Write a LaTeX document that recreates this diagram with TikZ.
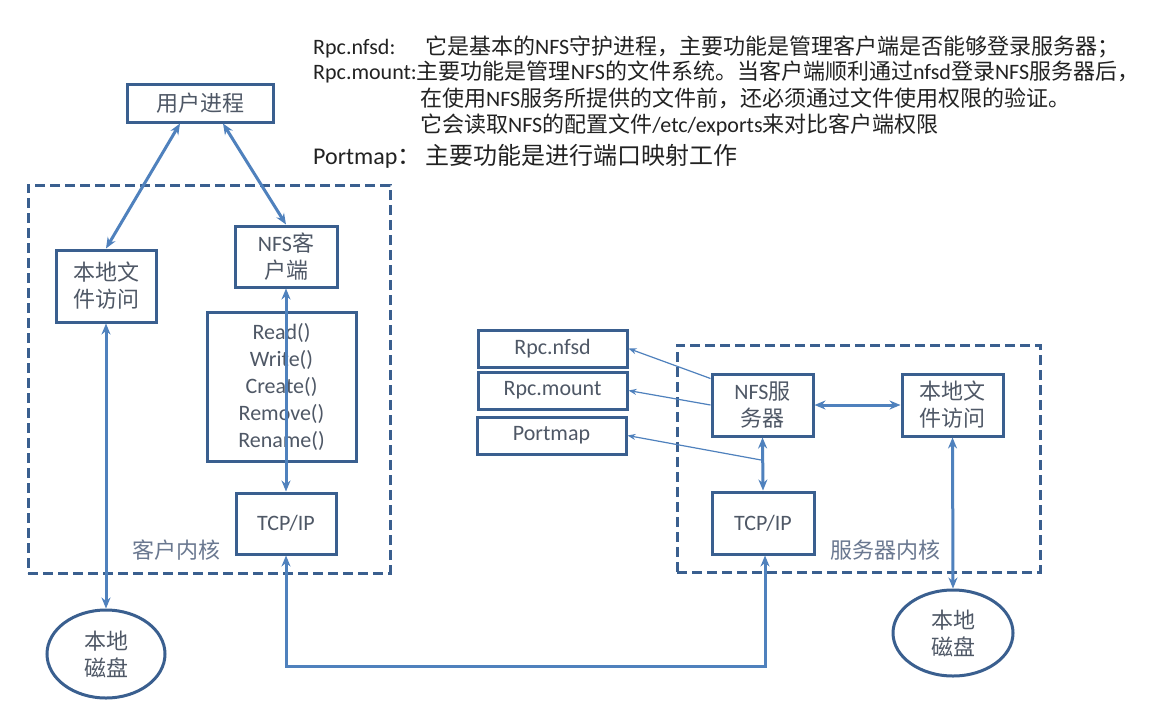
\documentclass[tikz,border=0pt]{standalone}
\usepackage{fontspec}
\setmainfont{Carlito}
\newfontfamily\cjk{Noto Sans CJK SC}
\usetikzlibrary{arrows.meta,shapes.geometric,calc}
% automatic switch between Latin (Carlito) and CJK (Noto Sans CJK SC)
\XeTeXinterchartokenstate=1
\newXeTeXintercharclass\CJKcls
\newcount\cjkcnt
\def\setcjkrange#1#2{\cjkcnt=#1\relax\loop\XeTeXcharclass\cjkcnt=\CJKcls\relax\ifnum\cjkcnt<#2\relax\advance\cjkcnt by 1\repeat}
\setcjkrange{"4E00}{"9FFF}
\setcjkrange{"3000}{"303F}
\setcjkrange{"FF00}{"FFEF}
\XeTeXinterchartoks 0 \CJKcls = {\cjk}
\XeTeXinterchartoks 4095 \CJKcls = {\cjk}
\XeTeXinterchartoks \CJKcls 0 = {\rmfamily}
\XeTeXinterchartoks \CJKcls 4095 = {\rmfamily}
\definecolor{boxc}{HTML}{3A5F8F}
\definecolor{arrc}{HTML}{4F81BD}
\definecolor{ntxt}{HTML}{4F5866}
\definecolor{ttxt}{HTML}{222222}
\definecolor{ktxt}{HTML}{6A7890}
\begin{document}
\begin{tikzpicture}[x=1pt,y=-1pt,
  box/.style={draw=boxc, line width=3pt, inner sep=0pt, text=ntxt,
    font=\fontsize{22}{27}\selectfont, align=center},
  disk/.style={box, ellipse},
  kernel/.style={draw=boxc, line width=3pt, dash pattern=on 10pt off 5pt, inner sep=0pt},
  arr/.style={draw=arrc, line width=3pt, {Stealth[length=11pt,width=9pt]}-{Stealth[length=11pt,width=9pt]}},
  thinarr/.style={draw=arrc, line width=1.2pt, -{Stealth[length=8pt,width=6pt]}},
  toptxt/.style={text=ttxt, font=\fontsize{22}{26}\selectfont, inner sep=0pt, anchor=base west},
  klabel/.style={text=ktxt, font=\fontsize{22}{26}\selectfont, inner sep=0pt},
]
\useasboundingbox[fill=white] (0,0) rectangle (1153,715);

% top description text
\node[toptxt] (t1a) at (313,54) {Rpc.nfsd:};
\node[toptxt] (t1b) at (425,54) {它是基本的NFS守护进程，主要功能是管理客户端是否能够登录服务器；};
\node[toptxt] (t2) at (313,79) {Rpc.mount:主要功能是管理NFS的文件系统。当客户端顺利通过nfsd登录NFS服务器后，};
\node[toptxt] (t3) at (420,106) {在使用NFS服务所提供的文件前，还必须通过文件使用权限的验证。};
\node[toptxt] (t4) at (420,132) {它会读取NFS的配置文件/etc/exports来对比客户端权限};
\node[toptxt, font=\fontsize{24}{28}\selectfont] (t5a) at (313,164) {Portmap：};
\node[toptxt, font=\fontsize{24}{28}\selectfont] (t5b) at (425,164) {主要功能是进行端口映射工作};

% client side
\node[kernel, minimum width=362, minimum height=388] (ck) at (209,379) {};
\node[klabel] (ckl) at (176,550) {客户内核};
\node[box, minimum width=146, minimum height=38] (user) at (200,103) {用户进程};
\node[box, minimum width=100, minimum height=72] (lfa) at (106,286) {本地文\\件访问};
\node[box, minimum width=102, minimum height=61] (nfsc) at (286,256.5) {NFS客\\户端};
\node[box, minimum width=149, minimum height=149] (ops) at (281.5,386.5) {Read()\\Write()\\Create()\\Remove()\\Rename()};
\node[box, minimum width=100, minimum height=61] (tcpL) at (286,523.5) {TCP/IP};
\node[disk, minimum width=118, minimum height=88] (diskL) at (106,654) {本地\\磁盘};

% server side
\node[kernel, minimum width=363, minimum height=227] (sk) at (858.5,458.5) {};
\node[klabel] (skl) at (885,550) {服务器内核};
\node[box, minimum width=149, minimum height=37] (rpcnfsd) at (552.5,348.5) {Rpc.nfsd};
\node[box, minimum width=149, minimum height=37] (rpcmount) at (552.5,390.5) {Rpc.mount};
\node[box, minimum width=149, minimum height=37] (portmap) at (551.5,435.5) {Portmap};
\node[box, minimum width=101, minimum height=62] (nfss) at (762.5,405) {NFS服\\务器};
\node[box, minimum width=101, minimum height=62] (lfaR) at (952.5,405) {本地文\\件访问};
\node[box, minimum width=102, minimum height=62] (tcpR) at (763,523) {TCP/IP};
\node[disk, minimum width=120, minimum height=86] (diskR) at (953,633) {本地\\磁盘};

% connectors, client
\draw[arr] ([xshift=-20pt]user.south) -- (lfa.north);
\draw[arr] ([xshift=23pt]user.south) -- (nfsc.north);
\draw[arr] (nfsc.south) -- (tcpL.north);
\draw[arr] (lfa.south) -- (diskL.north);
\coordinate (bend) at (520,666);
\draw[arr] (tcpL.south) |- (bend) -| ([xshift=2pt]tcpR.south);

% connectors, server
\draw[arr] (nfss.south) -- (tcpR.north);
\draw[arr] (nfss.east) -- (lfaR.west);
\draw[arr] (lfaR.south) -- (diskR.north);
\coordinate (pm) at ($(nfss.south)!0.43!(tcpR.north)$);
\draw[thinarr] ([yshift=-6pt]nfss.north west) -- (rpcnfsd.east);
\draw[thinarr] (nfss.west) -- (rpcmount.east);
\draw[thinarr] (pm) -- (portmap.east);
\end{tikzpicture}
\end{document}
